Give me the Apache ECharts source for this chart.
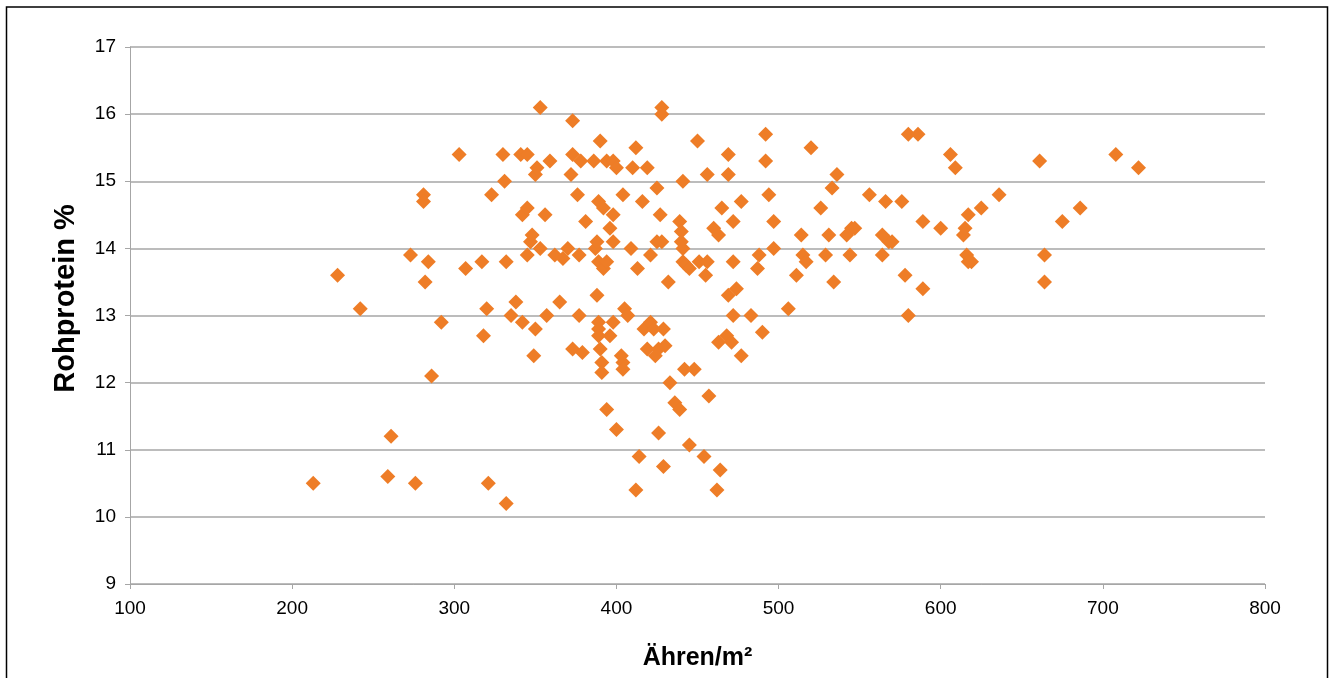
<!DOCTYPE html>
<html>
<head>
<meta charset="utf-8">
<script src="https://cdn.jsdelivr.net/npm/echarts@6/dist/echarts.min.js"></script>
<style>
html,body{margin:0;padding:0;background:#fff;}
#c{width:1332px;height:678px;}
</style>
</head>
<body>
<div id="c"></div>
<script>
// Ähren/m² values
const ears = [
213,228,242,259,261,276,273,281,281,284,282,286,292,303,307,317,318,320,321,323,
330,331,332,332,335,338,341,342,342,345,345,345,347,348,349,350,350,351,353,353,
356,357,359,362,365,367,370,372,373,373,373,376,377,377,378,379,381,386,387,388,
388,390,389,389,389,389,389,390,391,391,392,392,394,394,394,396,396,398,398,398,
398,400,400,403,404,404,404,405,407,409,410,412,412,413,414,416,417,419,419,421,
421,423,424,425,425,426,426,427,428,428,428,429,429,430,432,433,436,439,439,440,
440,441,441,441,442,443,445,445,448,450,451,454,455,456,456,457,460,462,463,463,
464,465,468,469,469,469,471,472,472,472,474,477,477,483,487,488,490,492,492,494,
497,497,506,511,514,515,517,520,526,529,531,533,534,536,542,544,545,547,556,564,
564,566,568,570,576,578,580,580,586,589,589,600,606,609,614,615,617,616,617,619,
625,636,661,664,664,675,686,708,722
];
// Rohprotein % values
const protein = [
10.5,13.6,13.1,10.6,11.2,10.5,13.9,14.8,14.7,13.8,13.5,12.1,12.9,15.4,13.7,13.8,12.7,13.1,10.5,14.8,
15.4,15.0,13.8,10.2,13.0,13.2,15.4,12.9,14.5,14.6,15.4,13.9,14.1,14.2,12.4,12.8,15.1,15.2,14.0,16.1,
14.5,13.0,15.3,13.9,13.2,13.85,14.0,15.1,12.5,15.9,15.4,14.8,13.0,13.9,15.3,12.45,14.4,15.3,14.0,14.1,
13.3,15.6,14.7,13.8,12.9,12.8,12.7,12.5,12.3,12.15,14.6,13.7,15.3,13.8,11.6,12.7,14.3,15.3,14.1,14.5,
12.9,11.3,15.2,12.4,12.3,12.2,14.8,13.1,13.0,14.0,15.2,15.5,10.4,13.7,10.9,14.7,12.8,15.2,12.5,12.9,
13.9,12.8,12.4,14.9,14.1,11.25,12.5,14.5,14.1,16.1,16.0,10.75,12.8,12.55,13.5,12.0,11.7,14.4,11.6,14.1,
14.25,14.0,15.0,13.8,12.2,13.75,13.7,11.07,12.2,15.6,13.8,10.9,13.6,13.8,15.1,11.8,14.3,10.4,12.6,14.2,
10.7,14.6,12.7,13.3,15.1,15.4,12.6,14.4,13.8,13.0,13.4,12.4,14.7,13.0,13.7,13.9,12.75,15.7,15.3,14.8,
14.4,14.0,13.1,13.6,14.2,13.9,13.8,15.5,14.6,13.9,14.2,14.9,13.5,15.1,14.2,13.9,14.3,14.3,14.8,13.9,
14.2,14.7,14.1,14.1,14.7,13.6,13.0,15.7,15.7,14.4,13.4,14.3,15.4,15.2,14.2,14.3,14.5,13.9,13.8,13.8,
14.6,14.8,15.3,13.9,13.5,14.4,14.6,15.4,15.2
];
const xTitle = 'Ähren/m²';
const yTitle = 'Rohprotein %';

const points = ears.map((x, i) => [x, protein[i]]);

const chart = echarts.init(document.getElementById('c'), null, {renderer: 'canvas'});
const font = '"Liberation Sans", Arial, sans-serif';
chart.setOption({
  animation: false,
  backgroundColor: '#fff',
  grid: {left: 130, right: 67, top: 47, bottom: 94, containLabel: false},
  xAxis: {
    type: 'value', min: 100, max: 800, interval: 100,
    name: xTitle, nameLocation: 'middle', nameGap: 62,
    nameTextStyle: {fontFamily: font, fontSize: 25, fontWeight: 'bold', color: '#000'},
    axisLine: {show: true, onZero: false, lineStyle: {color: '#A6A6A6', width: 1}},
    axisTick: {show: true, length: 5, inside: false, lineStyle: {color: '#A6A6A6'}},
    axisLabel: {fontFamily: font, fontSize: 19, color: '#000', margin: 15},
    splitLine: {show: false}
  },
  yAxis: {
    type: 'value', min: 9, max: 17, interval: 1,
    name: yTitle, nameLocation: 'middle', nameGap: 50, nameRotate: 90,
    nameTextStyle: {fontFamily: font, fontSize: 29, fontWeight: 'bold', color: '#000', padding: [0, 0, 0, 34]},
    axisLine: {show: true, lineStyle: {color: '#A6A6A6', width: 1}},
    axisTick: {show: true, length: 5, inside: false, lineStyle: {color: '#A6A6A6'}},
    axisLabel: {fontFamily: font, fontSize: 19, color: '#000', margin: 14},
    splitLine: {show: true, lineStyle: {color: '#A6A6A6', width: 1.5}}
  },
  graphic: [{
    type: 'rect', silent: true, z: 100,
    shape: {x: 6.5, y: 7, width: 1321, height: 700},
    style: {fill: 'none', stroke: '#000', lineWidth: 1.5}
  }],
  series: [{
    type: 'scatter',
    data: points,
    symbol: 'diamond',
    symbolSize: 15,
    itemStyle: {color: '#EE7D27', opacity: 1},
    emphasis: {disabled: true}
  }]
});
</script>
</body>
</html>
